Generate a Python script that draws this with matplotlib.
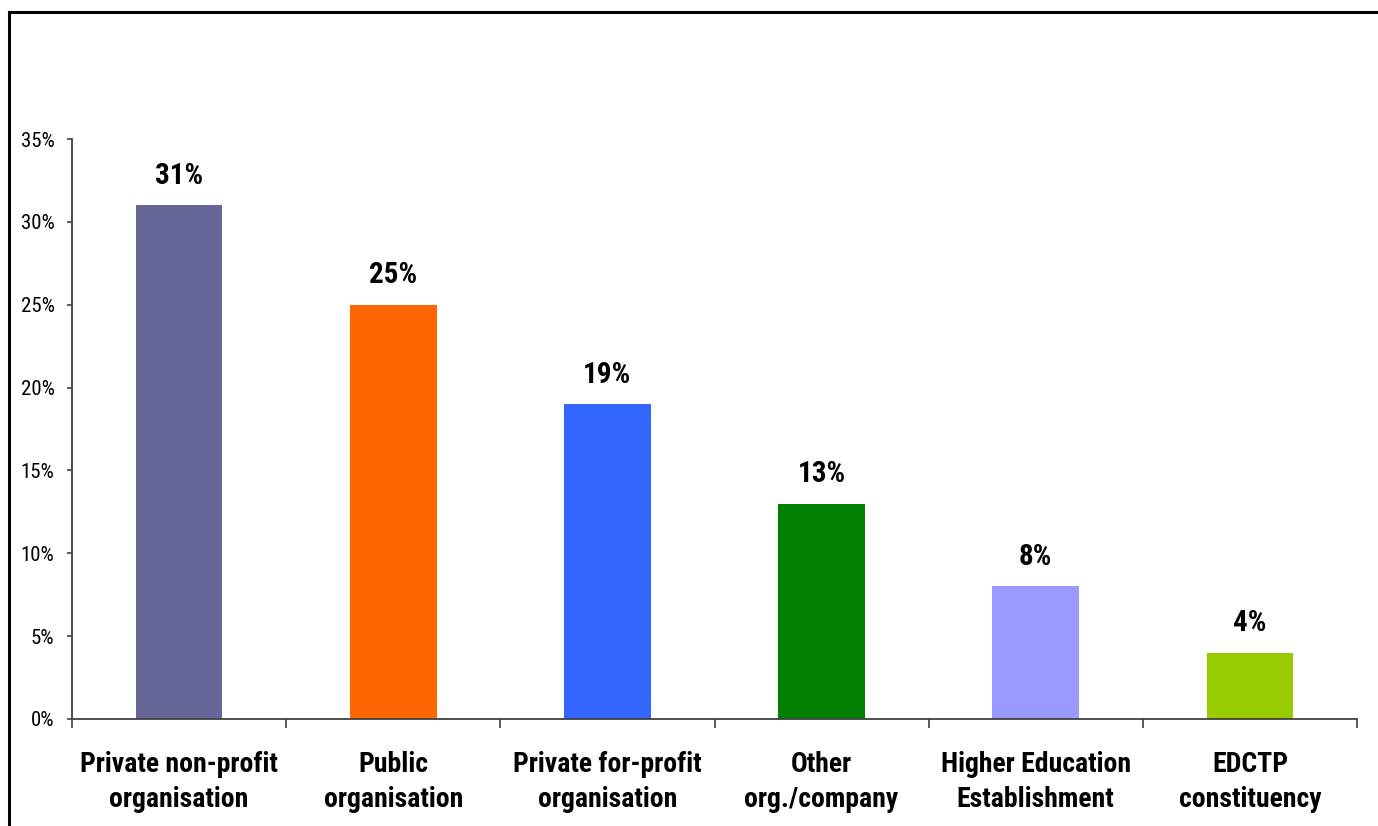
import matplotlib
matplotlib.use("Agg")
import matplotlib.pyplot as plt
from matplotlib.lines import Line2D
import numpy as np

categories = [
    "Private non-profit\norganisation",
    "Public\norganisation",
    "Private for-profit\norganisation",
    "Other\norg./company",
    "Higher Education\nEstablishment",
    "EDCTP\nconstituency",
]
shares = [31, 25, 19, 13, 8, 4]
bar_colors = ["#666699", "#FF6600", "#3366FF", "#008000", "#9999FF", "#99CC00"]
yticks = [0, 5, 10, 15, 20, 25, 30, 35]

FONT = ["Roboto Condensed", "DejaVu Sans"]

W, H = 1378, 826
fig = plt.figure(figsize=(W / 100, H / 100), dpi=100)
ax = fig.add_axes([72 / W, 1 - 719 / H, (1357 - 72) / W, (719 - 139) / H])

x = np.arange(len(categories))
ax.bar(x, shares, width=0.405, color=bar_colors, zorder=2)

for xi, v in zip(x, shares):
    ax.annotate(f"{v}%", (xi, v), xytext=(0, 11), textcoords="offset points",
                ha="center", va="bottom", fontsize=21, fontweight="bold",
                family=FONT)

ax.set_xlim(-0.5, len(categories) - 0.5)
ax.set_ylim(0, 35)
ax.set_yticks(yticks)
ax.set_yticklabels([f"{t}%" for t in yticks], family=FONT, fontsize=15)

# category labels centred, tick marks between categories
ax.set_xticks(x)
ax.set_xticklabels(categories, family=FONT, fontsize=20, fontweight="bold",
                   linespacing=1.4)
ax.set_xticks(np.arange(len(categories) + 1) - 0.5, minor=True)
ax.tick_params(axis="x", which="major", length=0, pad=23)
ax.tick_params(axis="x", which="minor", length=6.5, width=1.2, color="#404040",
               direction="out")
ax.tick_params(axis="y", length=3.6, width=1.2, color="#404040", pad=9)

for side in ("top", "right"):
    ax.spines[side].set_visible(False)
for side in ("left", "bottom"):
    ax.spines[side].set_color("#404040")
    ax.spines[side].set_linewidth(1.3)

# outer frame, open to the right and bottom
fig.add_artist(Line2D([8.5 / W, 1.0], [1 - 12 / H, 1 - 12 / H],
                      transform=fig.transFigure, color="black", lw=2.2))
fig.add_artist(Line2D([8.5 / W, 8.5 / W], [0.0, 1 - 12 / H],
                      transform=fig.transFigure, color="black", lw=2.2))

fig.savefig("out.png", dpi=100)
